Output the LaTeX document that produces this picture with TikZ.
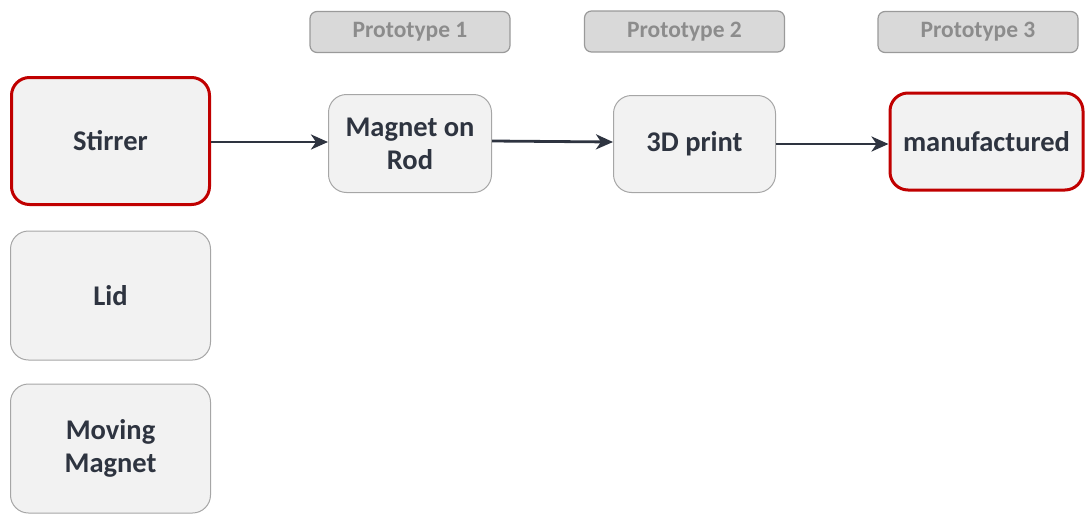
\documentclass[tikz,border=0pt]{standalone}
\usepackage{fontspec}
\setmainfont{Carlito}
\usetikzlibrary{arrows.meta}
\definecolor{boxfill}{HTML}{F2F2F2}
\definecolor{boxline}{HTML}{A6A6A6}
\definecolor{hilite}{HTML}{C00000}
\definecolor{ink}{HTML}{2E3440}
\definecolor{tagfill}{HTML}{D9D9D9}
\definecolor{tagline}{HTML}{9A9A9A}
\definecolor{tagtext}{HTML}{8C8C8C}
\tikzset{
  card/.style={draw=boxline, line width=1pt, fill=boxfill, rounded corners=18pt,
    align=center, text=ink, font=\fontsize{28.5}{33}\selectfont\bfseries,
    inner sep=0pt},
  keycard/.style={card, draw=hilite, line width=3pt},
  tag/.style={draw=tagline, line width=1.2pt, fill=tagfill, rounded corners=7pt,
    text=tagtext, font=\fontsize{23.5}{27}\selectfont\bfseries,
    minimum width=200pt, minimum height=41pt, inner sep=0pt},
  flow/.style={draw=ink, line width=2.8pt, -{Stealth[length=17pt,width=15pt,inset=5pt]}}
}
\begin{document}
\begin{tikzpicture}[x=1pt,y=-1pt]
  \useasboundingbox (0,0) rectangle (1086,514);
  % stage labels
  \node[tag] (p1) at (410,32) {Prototype 1};
  \node[tag] (p2) at (684.5,31.5) {Prototype 2};
  \node[tag] (p3) at (978,32) {Prototype 3};
  % components
  \node[keycard, minimum width=198pt, minimum height=127pt] (stirrer) at (110.5,141) {Stirrer};
  \node[card, minimum width=200pt, minimum height=129pt] (lid) at (110.5,295.5) {Lid};
  \node[card, minimum width=200pt, minimum height=129pt] (moving) at (110.5,448.5) {Moving\\Magnet};
  % prototype stages
  \node[card, minimum width=163pt, minimum height=98pt] (rod) at (410,143.5) {Magnet on\\Rod};
  \node[card, minimum width=162pt, minimum height=97pt] (print) at (694.5,144) {3D print};
  \node[keycard, minimum width=193pt, minimum height=97pt] (made) at (986.5,141.5) {manufactured};
  % progression
  \draw[flow] (stirrer.east |- 0,142) -- (rod.west |- 0,142);
  \draw[flow] (rod.east |- 0,141) -- (print.west |- 0,142);
  \draw[flow] (print.east |- 0,144) -- (made.west |- 0,144);
\end{tikzpicture}
\end{document}
